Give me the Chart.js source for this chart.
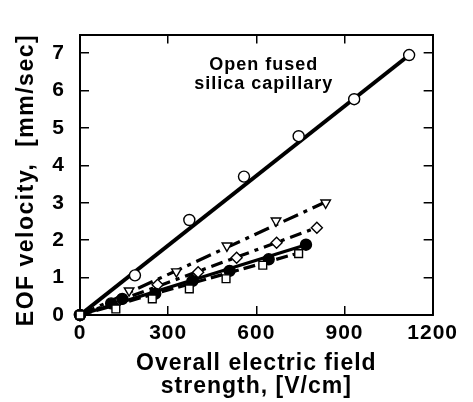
<!DOCTYPE html>
<html>
<head>
<meta charset="utf-8">
<title>EOF velocity vs field strength</title>
<script src="https://cdn.jsdelivr.net/npm/chart.js@4.4.1/dist/chart.umd.min.js"></script>
<style>
  html, body { margin: 0; padding: 0; background: #fff; }
  canvas { display: block; }
</style>
</head>
<body>
<canvas id="eofChart" width="473" height="402"></canvas>
<script>
// ================== DATA ==================
// field strength [V/cm] and EOF velocity [mm/sec] per capillary
const fieldOpen = [0, 187, 372, 558, 744, 933, 1120];
const velOpen   = [0, 1.06, 2.54, 3.70, 4.78, 5.77, 6.95];

const fieldTri = [0, 167, 328, 500, 667, 836];
const velTri   = [0, 0.65, 1.16, 1.85, 2.52, 3.00];

const fieldDia = [0, 135, 264, 402, 533, 669, 806];
const velDia   = [0, 0.40, 0.81, 1.14, 1.53, 1.93, 2.33];

const fieldDot = [0, 106, 144, 256, 383, 509, 642, 769];
const velDot   = [0, 0.31, 0.43, 0.57, 0.91, 1.18, 1.49, 1.88];

const fieldSq = [0, 122, 246, 372, 497, 622, 744];
const velSq   = [0, 0.16, 0.43, 0.70, 0.97, 1.33, 1.64];

// end points of the fitted lines (all start at the origin)
const fitField = [1125, 830, 800, 770, 745];
const fitVel   = [6.98, 3.00, 2.32, 1.88, 1.66];

const xTicks = [0, 300, 600, 900, 1200];
const yTicks = [0, 1, 2, 3, 4, 5, 6, 7];

const noteLines = ["Open fused", "silica capillary"];
const yTitle = "EOF velocity,  [mm/sec]";

// ================== HELPERS ==================
const FONT = "'Liberation Sans', Arial, sans-serif";

function pts(xs, ys) {
  return xs.map((x, i) => ({ x: x, y: ys[i] }));
}

function fitLine(i, width, dash) {
  return {
    data: [{ x: 0, y: 0 }, { x: fitField[i], y: fitVel[i] }],
    showLine: true,
    borderColor: "#000",
    borderWidth: width,
    borderDash: dash,
    borderCapStyle: "butt",
    pointRadius: 0,
    order: 10
  };
}

// lower order is painted later, so squares end up on top at the origin
function markers(xs, ys, style, fill, order, rot) {
  return {
    data: pts(xs, ys),
    showLine: false,
    clip: false,
    pointStyle: style,
    pointRadius: 5.5,
    pointRotation: rot || 0,
    pointBackgroundColor: fill,
    pointBorderColor: "#000",
    pointBorderWidth: 1.4,
    order: order
  };
}

function setTicks(values) {
  return scale => { scale.ticks = values.map(v => ({ value: v })); };
}

// ================== PLUGINS ==================
const textStyle = {
  id: "textStyle",
  beforeDraw(chart) {
    chart.ctx.letterSpacing = "1px";
  }
};

// inset label and the rotated y-axis title
const labels = {
  id: "labels",
  afterDraw(chart) {
    const { ctx, scales } = chart;
    const cx = scales.x.getPixelForValue(625);
    const cy = scales.y.getPixelForValue(6.68);
    ctx.save();
    ctx.fillStyle = "#000";
    ctx.textAlign = "center";
    ctx.textBaseline = "middle";
    ctx.letterSpacing = "1px";
    ctx.font = "bold 18px " + FONT;
    noteLines.forEach((t, i) => ctx.fillText(t, cx, cy + i * 19));

    ctx.letterSpacing = "1.5px";
    ctx.font = "bold 23px " + FONT;
    ctx.translate(27, 180);
    ctx.rotate(-Math.PI / 2);
    ctx.fillText(yTitle, 0, 0);
    ctx.restore();
  }
};

// ================== CHART ==================
new Chart(document.getElementById("eofChart"), {
  type: "scatter",
  data: {
    datasets: [
      fitLine(0, 4, []),
      fitLine(1, 3.2, [16, 6, 4, 6]),
      fitLine(2, 3.2, [12, 6, 4, 6]),
      fitLine(3, 3.2, []),
      fitLine(4, 3.2, [12, 5]),
      markers(fieldOpen, velOpen, "circle", "#fff", 5),
      markers(fieldTri, velTri, "triangle", "#fff", 4, 180),
      markers(fieldDia, velDia, "rectRot", "#fff", 3),
      markers(fieldDot, velDot, "circle", "#000", 2),
      markers(fieldSq, velSq, "rect", "#fff", 1)
    ]
  },
  options: {
    responsive: false,
    animation: false,
    devicePixelRatio: 1,
    layout: { padding: { top: 14, right: 31, left: 0, bottom: 0 } },
    plugins: {
      legend: { display: false },
      tooltip: { enabled: false }
    },
    scales: {
      x: {
        type: "linear",
        position: "bottom",
        min: 0,
        max: 1200,
        afterBuildTicks: setTicks(xTicks),
        afterFit: s => { s.height = 87; },
        grid: { drawOnChartArea: false, tickLength: -9, color: "#000", lineWidth: 1.5 },
        border: { color: "#000", width: 2 },
        ticks: {
          color: "#000",
          padding: 17,
          maxRotation: 0,
          callback: v => String(v),
          font: { family: FONT, size: 21, weight: "bold", lineHeight: 1 }
        },
        title: {
          display: true,
          text: ["Overall electric field", "strength, [V/cm]"],
          color: "#000",
          padding: { top: 0, bottom: 4 },
          font: { family: FONT, size: 23, weight: "bold", lineHeight: 1 }
        }
      },
      y: {
        type: "linear",
        position: "left",
        min: 0,
        max: 7.5,
        afterBuildTicks: setTicks(yTicks),
        afterFit: s => { s.width = 80; },
        grid: { drawOnChartArea: false, tickLength: -9, color: "#000", lineWidth: 1.5 },
        border: { color: "#000", width: 2 },
        ticks: {
          color: "#000",
          padding: 24,
          callback: v => String(v),
          font: { family: FONT, size: 21, weight: "bold", lineHeight: 1 }
        }
      },
      x2: {
        type: "linear",
        position: "top",
        min: 0,
        max: 1200,
        afterBuildTicks: setTicks(xTicks),
        afterFit: s => { s.height = 0; },
        grid: { drawOnChartArea: false, tickLength: -9, color: "#000", lineWidth: 1.5 },
        border: { color: "#000", width: 2 },
        ticks: { display: false }
      },
      y2: {
        type: "linear",
        position: "right",
        min: 0,
        max: 7.5,
        afterBuildTicks: setTicks(yTicks),
        afterFit: s => { s.width = 0; },
        grid: { drawOnChartArea: false, tickLength: -9, color: "#000", lineWidth: 1.5 },
        border: { color: "#000", width: 2 },
        ticks: { display: false }
      }
    }
  },
  plugins: [textStyle, labels]
});
</script>
</body>
</html>
